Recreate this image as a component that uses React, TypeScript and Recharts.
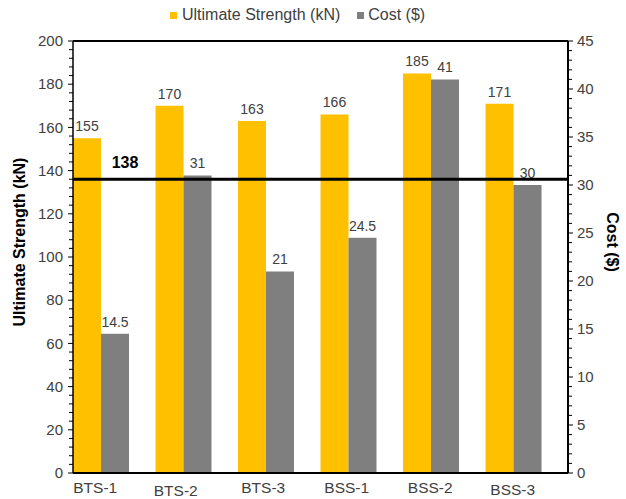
import { BarChart, Bar, XAxis, YAxis, ReferenceLine, LabelList } from "recharts";

const categories = ["BTS-1", "BTS-2", "BTS-3", "BSS-1", "BSS-2", "BSS-3"];
const strengthValues = [155, 170, 163, 166, 185, 171];
const costValues = [14.5, 31, 21, 24.5, 41, 30];
const strengthTickLabels = [0, 20, 40, 60, 80, 100, 120, 140, 160, 180, 200];
const costTickLabels = [0, 5, 10, 15, 20, 25, 30, 35, 40, 45];
const thresholdLine = 136;
const thresholdLabel = "138";

// minor ticks like excel: every 4 kN on the left, every $1 on the right
const strengthMinor = Array.from({ length: 51 }, (_, i) => i * 4);
const costMinor = Array.from({ length: 46 }, (_, i) => i);

// hand placed category labels in the original
const catShift = [
  { dx: -19, dy: 15 },
  { dx: -21, dy: 17.5 },
  { dx: -16, dy: 15 },
  { dx: -15, dy: 15 },
  { dx: -14, dy: 15 },
  { dx: -14, dy: 17 },
];

const data = categories.map((name, i) => ({
  name,
  strength: strengthValues[i],
  cost: costValues[i],
  spacer: null,
}));

const FONT = "'Liberation Sans', Arial, sans-serif";
const TEXT = "#404040";

const LeftTick = ({ x, y, payload }: any) => {
  const major = strengthTickLabels.includes(payload.value);
  return (
    <g>
      <line x1={x - (major ? 5 : 4)} x2={x} y1={y} y2={y} stroke="#000" strokeWidth={1} />
      {major && (
        <text x={x - 10} y={y} dy="0.35em" textAnchor="end" fontSize={15} fill={TEXT} fontFamily={FONT}>
          {payload.value}
        </text>
      )}
    </g>
  );
};

const RightTick = ({ x, y, payload }: any) => {
  const major = costTickLabels.includes(payload.value);
  return (
    <g>
      <line x1={x} x2={x + (major ? 5 : 4)} y1={y} y2={y} stroke="#000" strokeWidth={1} />
      {major && (
        <text x={x + 9} y={y} dy="0.35em" textAnchor="start" fontSize={15} fill={TEXT} fontFamily={FONT}>
          {payload.value}
        </text>
      )}
    </g>
  );
};

const CatTick = ({ x, y, payload, index }: any) => {
  const s = catShift[index] || { dx: 0, dy: 15 };
  return (
    <text x={x + s.dx} y={y + s.dy} dy="0.35em" textAnchor="middle" fontSize={15.5} fill={TEXT} fontFamily={FONT}>
      {payload.value}
    </text>
  );
};

export default function App() {
  return (
    <div style={{ position: "absolute", left: 0, top: 0, width: 626, height: 499, background: "#fff" }}>
      {/* legend */}
      <div
        style={{
          position: "absolute",
          top: 6,
          left: 170,
          display: "flex",
          alignItems: "center",
          fontFamily: FONT,
          fontSize: 16,
          color: TEXT,
          whiteSpace: "nowrap",
        }}
      >
        <span style={{ width: 7, height: 7, background: "#FFC000", marginRight: 5 }} />
        <span>Ultimate Strength (kN)</span>
        <span style={{ width: 7, height: 7, background: "#7F7F7F", marginLeft: 17, marginRight: 4 }} />
        <span>Cost ($)</span>
      </div>
      <BarChart
        width={626}
        height={499}
        data={data}
        margin={{ top: 41, right: 0, bottom: 0, left: 0 }}
        barCategoryGap={0}
        barGap={0}
      >
        <XAxis
          dataKey="name"
          height={26}
          tickLine={false}
          tickSize={0}
          tickMargin={0}
          axisLine={{ stroke: "#000", strokeWidth: 2 }}
          tick={<CatTick />}
          interval={0}
        />
        <YAxis
          yAxisId="left"
          width={73}
          domain={[0, 200]}
          ticks={strengthMinor}
          interval={0}
          tickLine={false}
          tickSize={0}
          tickMargin={0}
          axisLine={{ stroke: "#000", strokeWidth: 1.5 }}
          tick={<LeftTick />}
          label={{
            content: () => (
              <text
                transform="translate(19,242) rotate(-90)"
                textAnchor="middle"
                dominantBaseline="central"
                fontSize={16}
                fontWeight="bold"
                fill="#000"
                fontFamily={FONT}
              >
                Ultimate Strength (kN)
              </text>
            ),
          }}
        />
        <YAxis
          yAxisId="right"
          orientation="right"
          width={58}
          domain={[0, 45]}
          ticks={costMinor}
          interval={0}
          tickLine={false}
          tickSize={0}
          tickMargin={0}
          axisLine={{ stroke: "#000", strokeWidth: 2 }}
          tick={<RightTick />}
          label={{
            content: () => (
              <text
                transform="translate(612,242) rotate(90)"
                textAnchor="middle"
                dominantBaseline="central"
                fontSize={16}
                fontWeight="bold"
                fill="#000"
                fontFamily={FONT}
              >
                Cost ($)
              </text>
            ),
          }}
        />
        <ReferenceLine yAxisId="left" y={200} stroke="#000" strokeWidth={2} ifOverflow="visible" />
        <Bar yAxisId="left" dataKey="strength" fill="#FFC000" isAnimationActive={false}>
          <LabelList dataKey="strength" position="top" offset={7} fontSize={14} fill={TEXT} fontFamily={FONT} />
        </Bar>
        <Bar yAxisId="right" dataKey="cost" fill="#7F7F7F" isAnimationActive={false}>
          <LabelList dataKey="cost" position="top" offset={7} fontSize={14} fill={TEXT} fontFamily={FONT} />
        </Bar>
        <Bar yAxisId="left" dataKey="spacer" fill="none" isAnimationActive={false} />
        <ReferenceLine
          yAxisId="left"
          y={thresholdLine}
          stroke="#000"
          strokeWidth={3}
          label={(props: any) => (
            <text
              x={props.viewBox.x + 52}
              y={props.viewBox.y - 17}
              dy="0.35em"
              textAnchor="middle"
              fontSize={16}
              fontWeight="bold"
              fill="#000"
              fontFamily={FONT}
            >
              {thresholdLabel}
            </text>
          )}
        />
      </BarChart>
    </div>
  );
}
